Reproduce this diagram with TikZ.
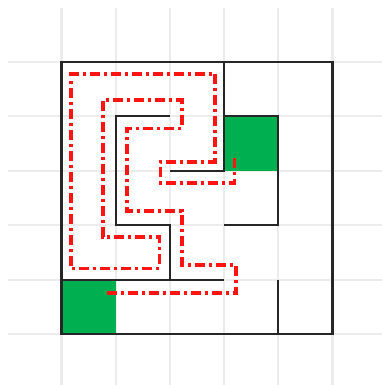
\documentclass[tikz,border=0pt]{standalone}
\usepackage{xcolor}
\definecolor{goalgreen}{RGB}{0,176,80}
\definecolor{gridgray}{RGB}{236,236,236}
\definecolor{routered}{RGB}{255,20,20}
\begin{document}
\begin{tikzpicture}[x=1pt,y=-1pt,
  gridline/.style={draw=gridgray,line width=2.2pt},
  wall/.style={draw=black!85,line width=2.2pt,line join=miter},
  route/.style={draw=routered,line width=3.6pt,dash pattern=on 10pt off 4pt on 3pt off 4pt,line join=miter},
  goal/.style={fill=goalgreen}]
\useasboundingbox (0,0) rectangle (382,385);
% grid
\foreach \x in {61.5,115.7,169.9,224.1,278.3,332.5}
  \draw[gridline] (\x,8) -- (\x,385);
\foreach \y in {61.7,116.2,170.7,225.2,279.7,334.2}
  \draw[gridline] (8,\y) -- (382,\y);
% green cells
\fill[goal] (61.5,279.7) rectangle (115.7,334.2);
\fill[goal] (224.1,116.2) rectangle (278.3,170.7);
% walls
\draw[wall] (61.5,61.7) rectangle (332.5,334.2);
\draw[wall] (169.9,170.7) -- (224.1,170.7) -- (224.1,61.7);
\draw[wall] (224.1,116.2) -- (278.3,116.2) -- (278.3,225.2) -- (224.1,225.2);
\draw[wall] (169.9,116.2) -- (115.7,116.2) -- (115.7,225.2) -- (169.9,225.2) -- (169.9,279.7) -- (224.1,279.7);
\draw[wall] (61.5,279.7) -- (169.9,279.7);
\draw[wall] (278.3,279.7) -- (278.3,334.2);
% route
\draw[route] (106.7,293) -- (236.2,293) -- (236.2,265) -- (181.7,265) -- (181.7,210.7)
  -- (126.7,210.7) -- (126.7,128.3) -- (181.7,128.3) -- (181.7,100) -- (102.7,100)
  -- (102.7,236.7) -- (159.3,236.7) -- (159.3,268.3) -- (71,268.3) -- (71,74)
  -- (215,74) -- (215,161.7) -- (160.5,161.7) -- (160.5,183) -- (234.5,183) -- (234.5,154);
\end{tikzpicture}
\end{document}
